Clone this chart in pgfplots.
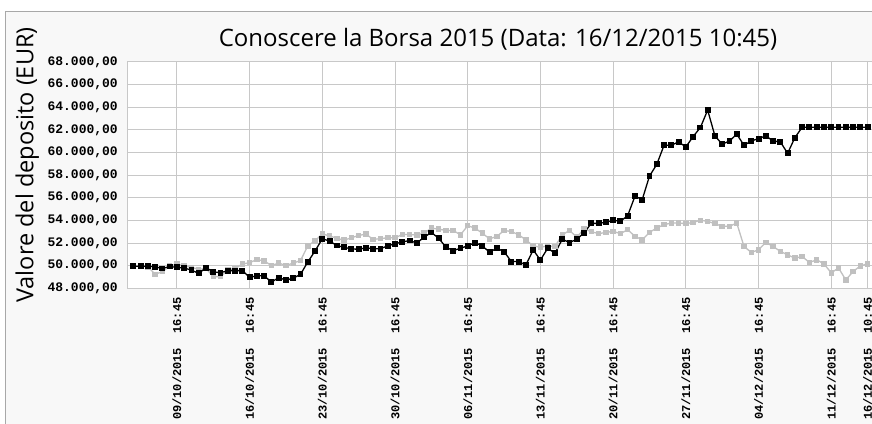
\documentclass[border=0pt]{standalone}
\usepackage{fontspec}
\setmainfont{Open Sans}
\newfontfamily\tickfont{Liberation Mono}
\usepackage{pgfplots}
\usepackage{pgfplotstable}
\pgfplotsset{compat=1.18}
\definecolor{bgc}{HTML}{F8F8F8}
\definecolor{framec}{HTML}{A8A8A8}
\definecolor{gridc}{HTML}{C8C8C8}
\definecolor{grayser}{HTML}{C0C0C0}

\pgfplotstableread{
i v
0 49950
1 49950
2 49950
3 49900
4 49750
5 49930
6 49850
7 49800
8 49600
9 49320
10 49820
11 49450
12 49380
13 49560
14 49560
15 49560
16 48960
17 49110
18 49110
19 48540
20 48950
21 48720
22 48900
23 49230
24 50330
25 51300
26 52380
27 52170
28 51780
29 51620
30 51480
31 51450
32 51580
33 51500
34 51500
35 51750
36 51930
37 52100
38 52220
39 52000
40 52520
41 52930
42 52430
43 51630
44 51330
45 51540
46 51750
47 52040
48 51750
49 51190
50 51540
51 51240
52 50360
53 50360
54 50060
55 51390
56 50500
57 51540
58 51100
59 52340
60 52040
61 52340
62 52900
63 53740
64 53740
65 53830
66 54010
67 53920
68 54420
69 56140
70 55840
71 57920
72 58950
73 60640
74 60640
75 60940
76 60490
77 61410
78 62210
79 63750
80 61470
81 60730
82 61020
83 61620
84 60640
85 61020
86 61230
87 61470
88 61020
89 60940
90 59930
91 61320
92 62230
93 62230
94 62230
95 62230
96 62230
97 62230
98 62230
99 62230
100 62230
101 62230
}\blackdata

\pgfplotstableread{
i v
0 49950
1 49950
2 49900
3 49240
4 49470
5 49950
6 50150
7 49970
8 49850
9 49680
10 49750
11 49030
12 49030
13 49610
14 49760
15 50140
16 50270
17 50540
18 50420
19 50010
20 50230
21 50010
22 50230
23 50450
24 51750
25 52200
26 52800
27 52630
28 52420
29 52250
30 52470
31 52670
32 52790
33 52320
34 52390
35 52470
36 52470
37 52750
38 52750
39 52720
40 52870
41 53320
42 53230
43 53110
44 53110
45 52730
46 53530
47 53320
48 52870
49 52370
50 52580
51 53110
52 53020
53 52730
54 52280
55 51750
56 51630
57 51750
58 51690
59 52730
60 53110
61 52520
62 53250
63 53000
64 52830
65 52940
66 53030
67 52830
68 53180
69 52590
70 52290
71 52940
72 53330
73 53620
74 53770
75 53770
76 53710
77 53830
78 54010
79 53920
80 53710
81 53480
82 53480
83 53770
84 51700
85 51170
86 51400
87 52060
88 51700
89 51260
90 50960
91 50660
92 50810
93 50280
94 50520
95 50160
96 49360
97 49800
98 48740
99 49480
100 49980
101 50160
}\graydata

\begin{document}
\begin{tikzpicture}
\fill[white] (0pt,0pt) rectangle (872pt,423pt);
\filldraw[fill=bgc, draw=framec, line width=1pt] (5pt,-5pt) rectangle (880pt,411pt);
\begin{axis}[
  at={(127pt,134.7pt)}, anchor=south west,
  scale only axis, width=747pt, height=226.3pt,
  xmin=-0.867, xmax=101.88, ymin=48000, ymax=68000,
  scaled y ticks=false,
  axis background/.style={fill=white},
  axis line style={gridc, line width=1pt},
  grid=major, grid style={gridc, line width=1pt},
  major tick length=0pt,
  ytick={48000,50000,...,68000},
  yticklabels={{48.000,00},{50.000,00},{52.000,00},{54.000,00},{56.000,00},{58.000,00},{60.000,00},{62.000,00},{64.000,00},{66.000,00},{68.000,00}},
  xtick={6,16,26,36,46,56,66,76,86,96,101},
  xticklabels={{09/10/2015\ \ 16:45},{16/10/2015\ \ 16:45},{23/10/2015\ \ 16:45},{30/10/2015\ \ 16:45},{06/11/2015\ \ 16:45},{13/11/2015\ \ 16:45},{20/11/2015\ \ 16:45},{27/11/2015\ \ 16:45},{04/12/2015\ \ 16:45},{11/12/2015\ \ 16:45},{16/12/2015\ \ 10:45}},
  yticklabel style={font=\tickfont\bfseries\fontsize{13}{13}\selectfont, anchor=east, inner sep=0pt},
  yticklabel shift=9pt,
  xticklabel style={font=\tickfont\bfseries\fontsize{12}{12}\selectfont, rotate=90, anchor=east, inner sep=0pt},
  xticklabel shift=9pt,
]
\addplot[grayser, line width=1.3pt, mark=square*, mark size=2.1pt, mark options={solid}] table[x=i,y=v]{\graydata};
\addplot[black, line width=1.3pt, mark=square*, mark size=2.3pt, mark options={solid}] table[x=i,y=v]{\blackdata};
\end{axis}
\node[anchor=base, inner sep=0pt, font=\fontsize{24}{24}\selectfont] at (498pt,376pt) {Conoscere la Borsa 2015 (Data: 16/12/2015 10:45)};
\node[anchor=base, rotate=90, inner sep=0pt, font=\fontsize{23.5}{23.5}\selectfont] at (33.3pt,258pt) {Valore del deposito (EUR)};
\pgfresetboundingbox
\useasboundingbox (0pt,0pt) rectangle (872pt,423pt);
\end{tikzpicture}
\end{document}
